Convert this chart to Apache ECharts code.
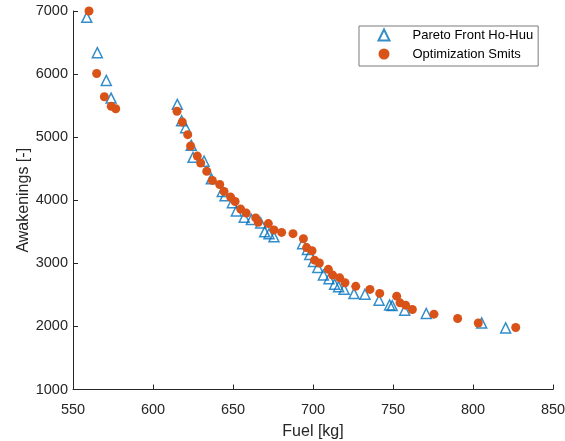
<!DOCTYPE html>
<html>
<head>
<meta charset="utf-8">
<script src="https://cdn.jsdelivr.net/npm/echarts@6/dist/echarts.min.js"></script>
<style>
  html, body { margin: 0; padding: 0; background: #fff; }
  #chart { width: 565px; height: 441px; }
</style>
</head>
<body>
<div id="chart"></div>
<script>
// Fuel [kg] / awakenings pairs of the Ho-Huu Pareto front
const hohuuFuel = [558.6, 565.2, 570.8, 573.8, 615.2, 617.9, 620.4, 623.9, 625.0, 631.9,
  636.5, 643.3, 645.0, 649.6, 652.1, 657.0, 661.5, 667.3, 669.8, 672.5,
  675.6, 693.5, 696.5, 698.0, 700.3, 703.0, 706.5, 710.0, 713.5, 716.0,
  719.4, 725.6, 732.5, 741.3, 747.9, 749.5, 757.3, 770.8, 805.4, 820.4];
const hohuuAwake = [6900, 6340, 5900, 5620, 5520, 5260, 5150, 4870, 4680, 4620,
  4340, 4140, 4070, 3960, 3830, 3730, 3695, 3640, 3500, 3470,
  3420, 3310, 3220, 3140, 3030, 2935, 2815, 2755, 2670, 2630,
  2590, 2520, 2510, 2415, 2340, 2330, 2257, 2205, 2055, 1976];

// Fuel [kg] / awakenings pairs found by the Smits optimization
const smitsFuel = [560.0, 564.8, 569.6, 573.9, 576.7, 615.0, 618.3, 621.7, 623.5, 627.7,
  629.8, 633.6, 637.1, 641.7, 644.4, 648.5, 651.3, 654.8, 658.3, 664.2,
  665.8, 672.1, 675.6, 680.4, 687.5, 694.0, 696.0, 699.4, 701.0, 704.0,
  709.6, 712.3, 716.7, 720.0, 726.7, 735.6, 741.7, 752.3, 754.4, 757.9,
  762.1, 775.6, 790.4, 803.3, 826.7];
const smitsAwake = [7000, 6010, 5640, 5490, 5450, 5410, 5240, 5040, 4860, 4700,
  4590, 4460, 4315, 4250, 4140, 4050, 3980, 3860, 3796, 3720,
  3650, 3630, 3530, 3490, 3470, 3390, 3250, 3200, 3050, 3005,
  2905, 2814, 2770, 2692, 2635, 2587, 2523, 2480, 2374, 2337,
  2268, 2194, 2125, 2055, 1982];

const xTicks = { min: 550, max: 850, step: 50 };
const yTicks = { min: 1000, max: 7000, step: 1000 };

const seriesNames = ['Pareto Front Ho-Huu', 'Optimization Smits'];

const pairs = (xs, ys) => xs.map((x, i) => [x, ys[i]]);

const FONT = 'Liberation Sans, Arial, Helvetica, sans-serif';
const INK = '#262626';

const chart = echarts.init(document.getElementById('chart'), null, { renderer: 'canvas' });

const axisCommon = {
  type: 'value',
  axisLine: { show: true, onZero: false, lineStyle: { color: INK, width: 1 } },
  axisTick: { show: true, inside: true, length: 5, lineStyle: { color: INK, width: 1 } },
  splitLine: { show: false },
  nameLocation: 'middle',
  nameMoveOverlap: false,
  nameTextStyle: { color: INK, fontSize: 16, fontFamily: FONT }
};

const plainNumber = v => String(v);

chart.setOption({
  animation: false,
  backgroundColor: '#ffffff',
  grid: { left: 73, right: 12, top: 11, bottom: 51.5, containLabel: false, outerBoundsMode: 'none' },
  xAxis: Object.assign({}, axisCommon, {
    min: xTicks.min, max: xTicks.max, interval: xTicks.step,
    name: 'Fuel [kg]', nameGap: 34,
    axisLabel: { color: INK, fontSize: 14.5, fontFamily: FONT, margin: 13, formatter: plainNumber }
  }),
  yAxis: Object.assign({}, axisCommon, {
    min: yTicks.min, max: yTicks.max, interval: yTicks.step,
    name: 'Awakenings [-]', nameGap: 41,
    axisLabel: { color: INK, fontSize: 14.5, fontFamily: FONT, margin: 5, formatter: plainNumber }
  }),
  legend: {
    orient: 'vertical',
    left: 359, top: 26,
    padding: [2, 5, 5, 18.5],
    itemGap: 5,
    itemWidth: 11, itemHeight: 11,
    backgroundColor: '#ffffff',
    borderColor: '#7a7a7a', borderWidth: 1,
    textStyle: { color: '#000000', fontSize: 13, fontFamily: FONT, lineHeight: 14, padding: [0, 0, 0, 18] },
    data: seriesNames
  },
  series: [
    {
      name: seriesNames[0],
      type: 'scatter',
      symbol: 'triangle',
      symbolSize: 10,
      itemStyle: { color: 'rgba(0,0,0,0)', borderColor: '#0072BD', borderWidth: 1.5 },
      data: pairs(hohuuFuel, hohuuAwake),
      z: 2
    },
    {
      name: seriesNames[1],
      type: 'scatter',
      symbol: 'circle',
      symbolSize: 9,
      itemStyle: { color: '#D95319', opacity: 1 },
      data: pairs(smitsFuel, smitsAwake),
      z: 3
    }
  ]
});
</script>
</body>
</html>
